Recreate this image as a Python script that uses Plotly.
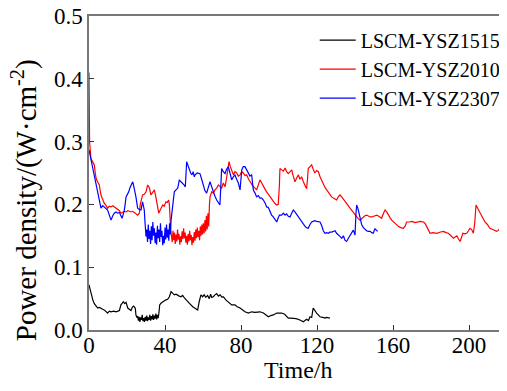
import plotly.graph_objects as go

# ---------------- data ----------------
black_t = [0, 0.5, 1, 2, 2.8, 3.7, 4.6, 5.5, 6.3, 7.2, 8, 9, 9.8, 10.7, 11.6, 13, 14.2, 15.2, 16, 16.8,
           17.5, 18.1, 18.8, 19.5, 20.4, 21.2, 22.1, 22.8, 23.4, 24.1, 24.4, 24.7, 25.2,
           25.6, 26, 26.4, 26.8, 27.2, 27.6, 28, 28.4, 28.8, 29.2, 29.6, 30, 30.4, 30.8, 31.2, 31.6,
           32, 32.4, 32.8, 33.2, 33.6, 34, 34.4, 34.8, 35.2, 35.6, 36, 36.4, 36.8,
           37.2, 38, 38.8, 39.6, 40.5, 41.4, 42.3, 43.2, 44, 44.9, 45.8, 46.6, 47.5, 48.4, 49.3, 50.2,
           51, 51.9, 53, 54.6, 56, 57.2, 58, 58.9, 59.8, 60.6, 61.5, 62.4, 63.3, 64, 64.6, 65.4, 66.3,
           67.2, 68.1, 69, 70, 70.7, 72, 73.3, 74.2, 75.1, 76.8, 78, 79.5, 80.8, 82.1, 83.9, 85.6, 87.4,
           89, 90, 91.8, 93, 94.4, 95.7, 97, 98.8, 100, 101.4, 103, 104.9, 106, 107.5, 109, 111, 112.8,
           114.5, 115.5, 116.3, 117.2, 118, 118.9, 119.8, 120.7, 121.6, 123, 124.2, 125, 126, 126.8]
black_v = [0.072, 0.065, 0.058, 0.048, 0.042, 0.038, 0.035, 0.036, 0.034, 0.033, 0.032, 0.030, 0.027, 0.030,
           0.029, 0.030, 0.029, 0.030, 0.031, 0.040, 0.043, 0.045, 0.042, 0.044, 0.035, 0.033, 0.031, 0.036,
           0.038, 0.036, 0.034, 0.024, 0.020,
           0.022, 0.015, 0.021, 0.013, 0.020, 0.016, 0.024, 0.014, 0.019, 0.013, 0.021, 0.015, 0.023, 0.014,
           0.020, 0.016, 0.024, 0.015, 0.022, 0.017, 0.025, 0.016, 0.023, 0.018, 0.026, 0.017, 0.024, 0.019,
           0.027,
           0.040, 0.043, 0.045, 0.046, 0.048, 0.049, 0.053, 0.061, 0.058, 0.056, 0.057, 0.055, 0.054, 0.053,
           0.055, 0.051, 0.048, 0.045, 0.042, 0.037, 0.034, 0.032, 0.045, 0.056, 0.053, 0.056, 0.052, 0.055,
           0.050, 0.057, 0.052, 0.053, 0.056, 0.058, 0.054, 0.056, 0.052, 0.053, 0.048, 0.045, 0.043, 0.040,
           0.040, 0.037, 0.035, 0.032, 0.029, 0.027, 0.029, 0.028, 0.029, 0.029, 0.027, 0.024, 0.021, 0.023,
           0.024, 0.027, 0.027, 0.027, 0.025, 0.019, 0.019, 0.019, 0.018, 0.016, 0.013, 0.017, 0.015, 0.021,
           0.020, 0.035, 0.030, 0.027, 0.024, 0.021, 0.020, 0.019, 0.020, 0.020, 0.019]

red_t = [0, 0.3, 1, 1.8, 2.8, 3.3, 3.7, 4.5, 5.4, 6.3, 7.2, 8, 9, 9.8, 10.7, 11.6, 12.5, 13.3, 14.2, 15.1,
         16, 16.8, 17.7, 18.6, 19.5, 20.4, 21.2, 22.1, 23, 23.9, 24.7, 25.6, 26.5, 27, 27.4, 28.2, 29.1, 30,
         30.9, 31.8, 32.6, 33.5, 34.4, 35.3, 36, 36.7, 37.3, 37.9, 38.8, 39.6, 40.5, 41.2, 41.9, 42.3, 42.6, 43,
         43.4, 43.8, 44.2, 44.6, 45, 45.4, 45.8, 46.2, 46.6, 47, 47.4, 47.8, 48.2, 48.6, 49, 49.4, 49.8, 50.2,
         50.6, 51, 51.4, 51.8, 52.2, 52.6, 53, 53.4, 53.8, 54.2, 54.6, 55, 55.4, 55.8, 56.2, 56.6, 57, 57.4,
         57.8, 58.2, 58.6, 59, 59.4, 59.8, 60.2, 60.6, 61, 61.4, 61.8, 62.2, 62.6, 63,
         63.4, 63.7, 64.6, 65.5, 66.3, 67.2, 68.1, 69, 69.8, 70.7, 71.6, 72.4, 73.2, 73.7, 74.4, 75.1, 76,
         76.8, 77.7, 78.6, 79.5, 80.4, 81.2, 82.1, 83, 84, 84.7, 85.6, 86.5, 87.4, 88.2, 89, 90, 90.9, 91.8,
         92.7, 93.5, 94.4, 95.3, 96.2, 97, 98, 98.8, 99.6, 100.2, 100.5, 101.4, 102.3, 103.2, 104, 104.9,
         105.8, 106.7, 107.5, 108.4, 109.3, 110.2, 111, 111.9, 112.8, 113.7, 114.5, 115, 115.4, 116.3, 117.2,
         118, 118.9, 119.8, 120.7, 121.6, 122.5, 123.3, 124.2, 125.1, 126, 126.8, 127.7, 128.6, 129.5, 130.3,
         131.2, 132.1, 133, 133.9, 134.7, 135.6, 136.5, 137.4, 138.2, 139.1, 140, 140.9, 141.8, 142.6, 143.5,
         144.4, 145.2, 146.1, 147, 148, 148.8, 150, 151.4, 152.5, 154, 155, 155.8, 156.7, 157.5, 158.4, 159.3,
         160.2, 161.5, 162.8, 164, 165.4, 166.3, 167.2, 168.5, 170, 171.5, 173, 174.5, 176, 176.8, 177.7,
         178.6, 179.5, 181, 183, 185, 186.5, 188, 189.1, 190.5, 191.8, 192.7, 193.6, 194.5, 195.3, 196, 196.8,
         197.8, 198.8, 199.7, 200.5, 201.4, 202.3, 203, 203.7, 204.7, 205.8, 207, 208.4, 209.7, 211, 212.5,
         214, 214.6, 215.5, 216.3, 217, 217.7, 218.8, 219.8]
red_v = [0.41, 0.30, 0.273, 0.268, 0.263, 0.250, 0.242, 0.236, 0.231, 0.215, 0.208, 0.202, 0.198, 0.194,
         0.197, 0.196, 0.198, 0.196, 0.194, 0.191, 0.190, 0.186, 0.188, 0.189, 0.188, 0.190, 0.189, 0.188,
         0.189, 0.186, 0.185, 0.183, 0.186, 0.200, 0.207, 0.215, 0.216, 0.220, 0.231, 0.226, 0.215, 0.219,
         0.223, 0.210, 0.198, 0.186, 0.190, 0.194, 0.199, 0.197, 0.204, 0.203, 0.207, 0.200, 0.178, 0.160,
         0.150, 0.140, 0.158, 0.143, 0.155, 0.137, 0.152, 0.141, 0.160, 0.144, 0.153, 0.136, 0.149, 0.140,
         0.157, 0.145, 0.162, 0.146, 0.155, 0.139, 0.150, 0.136, 0.153, 0.141, 0.158, 0.143, 0.151, 0.135,
         0.148, 0.139, 0.156, 0.142, 0.160, 0.146, 0.163, 0.148, 0.158, 0.143, 0.165, 0.150, 0.168, 0.152,
         0.170, 0.154, 0.175, 0.157, 0.182, 0.160, 0.186, 0.165,
         0.200, 0.212, 0.220, 0.218, 0.223, 0.226, 0.231, 0.228, 0.226, 0.234, 0.228, 0.242, 0.262, 0.268,
         0.260, 0.255, 0.247, 0.252, 0.250, 0.245, 0.247, 0.252, 0.250, 0.246, 0.247, 0.240, 0.236, 0.232,
         0.228, 0.226, 0.223, 0.230, 0.239, 0.234, 0.228, 0.224, 0.220, 0.216, 0.212, 0.208, 0.204, 0.201,
         0.199, 0.200, 0.230, 0.257, 0.255, 0.253, 0.258, 0.252, 0.249, 0.253, 0.255, 0.245, 0.236, 0.242,
         0.247, 0.240, 0.244, 0.236, 0.231, 0.225, 0.240, 0.257, 0.260, 0.263, 0.256, 0.250, 0.254, 0.252,
         0.244, 0.238, 0.231, 0.227, 0.223, 0.219, 0.215, 0.212, 0.210, 0.208, 0.207, 0.212, 0.215, 0.212,
         0.208, 0.205, 0.202, 0.198, 0.194, 0.191, 0.187, 0.183, 0.180, 0.177, 0.175, 0.178, 0.180, 0.182,
         0.183, 0.181, 0.180, 0.180, 0.182, 0.183, 0.181, 0.178, 0.186, 0.191, 0.188, 0.183, 0.179, 0.175,
         0.172, 0.169, 0.165, 0.163, 0.162, 0.165, 0.172, 0.172, 0.173, 0.171, 0.172, 0.173, 0.172, 0.170,
         0.165, 0.159, 0.154, 0.155, 0.154, 0.156, 0.157, 0.155, 0.154, 0.150, 0.146, 0.148, 0.150, 0.145,
         0.141, 0.147, 0.154, 0.153, 0.154, 0.158, 0.162, 0.160, 0.154, 0.170, 0.199, 0.193, 0.186, 0.179,
         0.172, 0.168, 0.162, 0.160, 0.158, 0.157, 0.159, 0.162, 0.161, 0.160, 0.158, 0.157]

blue_t = [0, 0.5, 1, 1.9, 2.8, 3.7, 4.6, 5.5, 6.3, 7.2, 8, 8.9, 9.8, 10.7, 11.6, 12.5, 13.3, 14.2, 15.1, 16,
          16.8, 17.4, 18.1, 18.6, 19.1, 19.5, 20.2, 20.9, 21.5, 22.1, 23, 23.5, 23.9, 24.3, 24.7, 25.2, 25.6,
          26.5, 27.4, 27.8, 28.2, 28.7, 29.1, 29.4, 29.6, 30,
          30.4, 30.8, 31.2, 31.6, 32, 32.4, 32.8, 33.2, 33.6, 34, 34.4, 34.8, 35.2, 35.6, 36, 36.4, 36.8,
          37.2, 37.6, 38, 38.4, 38.8, 39.2, 39.6, 40, 40.4, 40.8, 41.2, 41.6, 42, 42.4, 42.8, 43.2,
          43.6, 44.2, 44.9, 45.8, 46.7, 47.1, 47.5, 48.4, 49.3, 50, 50.7, 51, 51.4, 52.1, 52.8, 53.5, 54.2,
          54.8, 55.4, 55.8, 57, 58.4, 59.3, 60.2, 61, 61.9, 62.8, 63.7, 64.6, 65.4, 66.3, 67.2, 68, 68.9,
          69.4, 69.8, 70.7, 71.6, 72.4, 73.3, 74.2, 75.1, 76, 76.8, 77.7, 78.6, 79.5, 80, 80.4, 81.2, 82.1,
          83, 83.9, 84.7, 85.6, 86.5, 87.4, 88.2, 89.1, 90, 90.9, 91.8, 92.7, 93.5, 94.4, 95.3, 96.1, 97,
          97.9, 98.8, 99.5, 100.2, 101.4, 102.3, 103.2, 104, 104.9, 105.8, 106.7, 107.5, 108.4, 109.3, 110.2,
          111, 111.9, 112.8, 113.7, 114.5, 115.4, 116.3, 117.2, 118, 118.9, 119.8, 120.7, 121.6, 122.5,
          123.3, 124.2, 125.1, 126, 126.8, 127.7, 128.6, 129.5, 130.3, 131.2, 132.1, 133, 133.9, 134.7,
          135.6, 136.5, 137.4, 138.3, 139.1, 139.6, 140, 140.5, 140.9, 141.6, 142.6, 143.5, 144.4, 145.2,
          146.1, 147, 148, 148.8, 149.6, 150.5, 151.2, 151.9]
blue_v = [0.287, 0.280, 0.268, 0.255, 0.244, 0.232, 0.220, 0.206, 0.194, 0.198, 0.196, 0.193, 0.191, 0.183,
          0.175, 0.182, 0.186, 0.188, 0.186, 0.187, 0.183, 0.178, 0.185, 0.191, 0.202, 0.212, 0.216, 0.220,
          0.226, 0.231, 0.236, 0.230, 0.226, 0.218, 0.212, 0.203, 0.194, 0.192, 0.191, 0.198, 0.204, 0.197,
          0.191, 0.175, 0.165, 0.149,
          0.160, 0.140, 0.168, 0.145, 0.158, 0.137, 0.165, 0.143, 0.172, 0.150, 0.162, 0.138, 0.155, 0.136,
          0.166, 0.146, 0.160, 0.140, 0.170, 0.148, 0.158, 0.135, 0.150, 0.138, 0.163, 0.144, 0.168, 0.147,
          0.160, 0.142, 0.170, 0.152, 0.175,
          0.186, 0.205, 0.220, 0.223, 0.226, 0.232, 0.239, 0.236, 0.234, 0.231, 0.228, 0.250, 0.268, 0.262,
          0.255, 0.250, 0.247, 0.252, 0.244, 0.247, 0.250, 0.249, 0.240, 0.228, 0.222, 0.218, 0.228, 0.236,
          0.228, 0.220, 0.213, 0.207, 0.203, 0.199, 0.230, 0.257, 0.252, 0.249, 0.256, 0.260, 0.250, 0.239,
          0.244, 0.247, 0.240, 0.234, 0.223, 0.240, 0.255, 0.260, 0.260, 0.255, 0.249, 0.245, 0.247, 0.223,
          0.218, 0.212, 0.214, 0.210, 0.210, 0.207, 0.202, 0.196, 0.195, 0.189, 0.183, 0.180, 0.176, 0.172,
          0.178, 0.183, 0.183, 0.186, 0.183, 0.185, 0.181, 0.180, 0.186, 0.191, 0.188, 0.184, 0.180, 0.176,
          0.172, 0.168, 0.165, 0.163, 0.162, 0.168, 0.172, 0.173, 0.174, 0.173, 0.172, 0.172, 0.166, 0.158,
          0.154, 0.155, 0.154, 0.156, 0.156, 0.157, 0.158, 0.154, 0.152, 0.149, 0.146, 0.150, 0.143, 0.141,
          0.146, 0.150, 0.154, 0.159, 0.155, 0.151, 0.185, 0.199, 0.193, 0.177, 0.168, 0.163, 0.160, 0.158,
          0.157, 0.157, 0.155, 0.154, 0.161, 0.158, 0.157]

series_names = ["LSCM-YSZ1515", "LSCM-YSZ2010", "LSCM-YSZ2307"]
x_ticks = [0, 40, 80, 120, 160, 200]
y_ticks = [0.0, 0.1, 0.2, 0.3, 0.4, 0.5]

FONT = "Liberation Serif, Times New Roman, serif"

fig = go.Figure()
for name, t, v, c in [(series_names[0], black_t, black_v, "#000000"),
                      (series_names[1], red_t, red_v, "#ff0000"),
                      (series_names[2], blue_t, blue_v, "#0000ff")]:
    fig.add_trace(go.Scatter(x=t, y=v, mode="lines", name=name, legendgroup=name,
                             line=dict(color=c, width=1.2)))

# page body has an 8px margin, so the figure is shifted by 8px
fig.update_layout(
    width=499, height=383,
    margin=dict(l=81, r=0, t=8, b=61),
    paper_bgcolor="white", plot_bgcolor="white",
    font=dict(family=FONT, size=22, color="black"),
    showlegend=True,
    legend=dict(x=0.54, y=0.985, xanchor="left", yanchor="top", itemwidth=36,
                font=dict(family=FONT, size=20, color="black"),
                bgcolor="rgba(0,0,0,0)", tracegroupgap=0),
    annotations=[
        dict(text="Time/h", xref="paper", yref="paper", x=0.5, y=-0.127, xanchor="center",
             yanchor="middle", showarrow=False, font=dict(family=FONT, size=24)),
        dict(text="Power density/(W·cm<sup>-2</sup>)", xref="paper", yref="paper", x=-0.155, y=0.414,
             xanchor="center", yanchor="middle", textangle=-90, showarrow=False,
             font=dict(family=FONT, size=29)),
    ],
)
fig.update_xaxes(range=[0, 220], tickvals=x_ticks, ticks="inside", ticklen=5, tickcolor="#333",
                 showline=True, linecolor="#777", linewidth=1.5, mirror=True, showgrid=False, zeroline=False,
                 automargin=False, ticklabelstandoff=-6, ticklabeloverflow="allow",
                 tickfont=dict(size=23))
fig.update_yaxes(range=[0, 0.5], tickvals=y_ticks, tickformat=".1f", ticks="inside", ticklen=5,
                 tickcolor="#333", showline=True, linecolor="#777", linewidth=1.5, showgrid=False,
                 zeroline=False, automargin=False, ticklabeloverflow="allow",
                 tickfont=dict(size=23))

fig.write_html("out.html")
